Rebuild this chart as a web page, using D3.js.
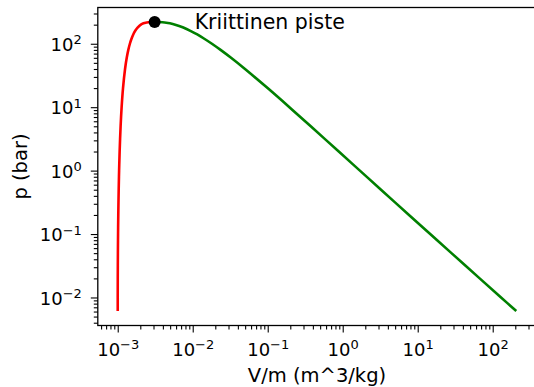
<!DOCTYPE html>
<html>
<head>
<meta charset="utf-8">
<script src="https://cdn.jsdelivr.net/npm/d3@7"></script>
<style>
  body { margin: 0; background: #fff; }
  svg, svg text { font-family: "DejaVu Sans", sans-serif; }
</style>
</head>
<body>
<div id="chart"></div>
<script>
// saturation table for water (steam tables)
const pressure = [0.00611, 0.01, 0.02, 0.05, 0.1, 0.2, 0.5, 1, 2, 5, 10, 20, 40, 60, 80, 100, 120, 140, 160, 180, 200, 210, 215, 218, 220, 220.64];
const vLiquid = [0.0010002, 0.0010001, 0.0010013, 0.0010053, 0.0010102, 0.0010172, 0.0010300, 0.0010432, 0.0010605, 0.0010926, 0.0011273, 0.0011767, 0.0012522, 0.0013187, 0.0013842, 0.0014524, 0.0015267, 0.0016107, 0.0017107, 0.0018397, 0.0020360, 0.002207, 0.00236, 0.00256, 0.00285, 0.003106];
const vVapor = [206.14, 129.2, 67.0, 28.19, 14.67, 7.649, 3.240, 1.694, 0.8857, 0.3749, 0.19444, 0.09963, 0.04978, 0.03244, 0.02352, 0.01803, 0.01426, 0.01149, 0.009306, 0.007489, 0.005834, 0.004952, 0.00444, 0.00395, 0.00345, 0.003106];
const critical = { v: 0.003106, p: 220.64, label: "Kriittinen piste" };
const xTicks = [-3, -2, -1, 0, 1, 2];
const yTicks = [-2, -1, 0, 1, 2];

const size = {
    width: 534,
    height: 387,
    left: 97.8,
    right: 536.2,
    top: 7.5,
    bottom: 325.5,
};

const svg = d3.select("#chart").append("svg")
    .attr("width", size.width)
    .attr("height", size.height);

// log domains with 5% padding like matplotlib
const pad = (lo, hi) => {
    const a = Math.log10(lo), b = Math.log10(hi), m = (b - a) * 0.05;
    return [Math.pow(10, a - m), Math.pow(10, b + m)];
};
const x = d3.scaleLog()
    .domain(pad(d3.min(vLiquid), d3.max(vVapor)))
    .range([size.left, size.right]);
const y = d3.scaleLog()
    .domain(pad(d3.min(pressure), d3.max(pressure)))
    .range([size.bottom, size.top]);

const minors = (lo, hi) => {
    const out = [];
    for (let e = lo; e <= hi; e++) for (let k = 2; k <= 9; k++) out.push(k * Math.pow(10, e));
    return out;
};
const xMinor = minors(-4, 2).filter(v => v >= x.domain()[0] && v <= x.domain()[1]);
const yMinor = minors(-3, 2).filter(v => v >= y.domain()[0] && v <= y.domain()[1]);

const supLabel = function(sel) {
    sel.each(function(d) {
        const t = d3.select(this).text("");
        const e = Math.round(Math.log10(d));
        t.append("tspan").text("10");
        t.append("tspan").attr("dy", "-0.5em").style("font-size", "13px")
            .text(e < 0 ? "\u2212" + (-e) : e);
    });
};

// x axis
const gx = svg.append("g").attr("transform", `translate(0,${size.bottom})`);
gx.call(d3.axisBottom(x).tickValues(xMinor).tickFormat("").tickSize(4).tickSizeOuter(0));
const gxMaj = svg.append("g").attr("transform", `translate(0,${size.bottom})`);
gxMaj.call(d3.axisBottom(x).tickValues(xTicks.map(e => Math.pow(10, e))).tickSize(7).tickSizeOuter(0).tickPadding(6));
gxMaj.selectAll(".tick text").attr("y", 30).attr("dy", null).style("font-size", "18px").attr("fill", "#000").call(supLabel);

// y axis
const gy = svg.append("g").attr("transform", `translate(${size.left},0)`);
gy.call(d3.axisLeft(y).tickValues(yMinor).tickFormat("").tickSize(4).tickSizeOuter(0));
const gyMaj = svg.append("g").attr("transform", `translate(${size.left},0)`);
gyMaj.call(d3.axisLeft(y).tickValues(yTicks.map(e => Math.pow(10, e))).tickSize(7).tickSizeOuter(0).tickPadding(9));
gyMaj.selectAll(".tick text").attr("dy", "0.37em").style("font-size", "18px").attr("fill", "#000").call(supLabel);

svg.selectAll(".domain").remove();
svg.selectAll("g").attr("font-family", null);
svg.selectAll(".tick line").attr("stroke", "#000").attr("stroke-width", 1.1);

// spines
svg.append("rect")
    .attr("x", size.left).attr("y", size.top)
    .attr("width", size.right - size.left).attr("height", size.bottom - size.top)
    .attr("fill", "none").attr("stroke", "#000").attr("stroke-width", 1.3);

// curves
const line = d3.line()
    .x(d => x(d[0]))
    .y(d => y(d[1]))
    .curve(d3.curveCatmullRom);

svg.append("path")
    .datum(d3.zip(vLiquid, pressure))
    .attr("d", line)
    .attr("fill", "none").attr("stroke", "#ff0000").attr("stroke-width", 2.6);

svg.append("path")
    .datum(d3.zip(vVapor, pressure))
    .attr("d", line)
    .attr("fill", "none").attr("stroke", "#008000").attr("stroke-width", 2.6);

svg.append("circle")
    .attr("cx", x(critical.v)).attr("cy", y(critical.p))
    .attr("r", 6).attr("fill", "#000");

svg.append("text")
    .attr("x", x(critical.v) + 40).attr("y", y(critical.p) + 7.5)
    .style("font-size", "20.5px")
    .text(critical.label);

// axis labels
svg.append("text")
    .attr("x", (size.left + size.right) / 2).attr("y", 382)
    .attr("text-anchor", "middle").style("font-size", "19.5px")
    .text("V/m (m^3/kg)");

svg.append("text")
    .attr("transform", `translate(27,${(size.top + size.bottom) / 2}) rotate(-90)`)
    .attr("text-anchor", "middle").style("font-size", "19.5px")
    .text("p (bar)");
</script>
</body>
</html>
